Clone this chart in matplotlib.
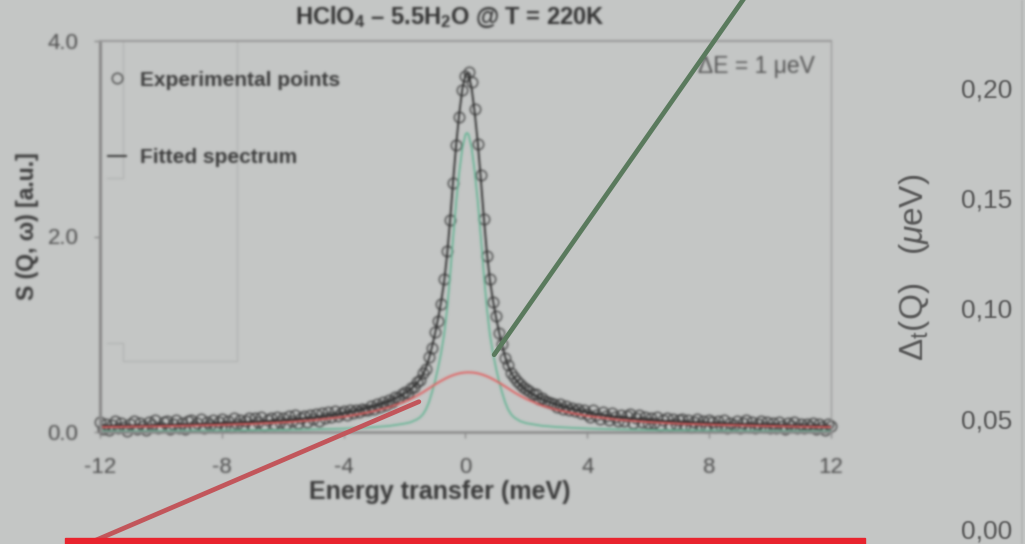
import numpy as np
import matplotlib
matplotlib.use("Agg")
import matplotlib.pyplot as plt
from matplotlib.lines import Line2D
from matplotlib.patches import Rectangle

# ---------------------------------------------------------------- data
# measured spectrum, energy transfer in meV (0.1 meV channels)
energy = np.round(np.arange(-120, 121) / 10.0, 1)
intensity = [
    0.10, 0.03, 0.08, 0.02, 0.07, 0.11, 0.04, 0.09, 0.05, 0.01,
    0.08, 0.11, 0.03, 0.09, 0.06, 0.02, 0.10, 0.07, 0.12, 0.04,
    0.05, 0.10, 0.11, 0.03, 0.08, 0.12, 0.04, 0.09, 0.03, 0.11,
    0.12, 0.06, 0.09, 0.13, 0.04, 0.10, 0.07, 0.12, 0.05, 0.10,
    0.13, 0.06, 0.11, 0.05, 0.14, 0.08, 0.12, 0.06, 0.11, 0.14,
    0.07, 0.14, 0.10, 0.15, 0.07, 0.12, 0.14, 0.08, 0.15, 0.10,
    0.14, 0.08, 0.16, 0.11, 0.17, 0.09, 0.14, 0.16, 0.10, 0.17,
    0.13, 0.18, 0.11, 0.19, 0.14, 0.20, 0.15, 0.21, 0.16, 0.19,
    0.21, 0.17, 0.22, 0.19, 0.23, 0.20, 0.24, 0.23, 0.22, 0.27,
    0.24, 0.29, 0.26, 0.31, 0.28, 0.33, 0.31, 0.36, 0.35, 0.39,
    0.41, 0.40, 0.45, 0.46, 0.51, 0.53, 0.60, 0.64, 0.77, 0.86,
    1.02, 1.14, 1.31, 1.57, 1.85, 2.17, 2.55, 2.94, 3.22, 3.50,
    3.64,
    3.68, 3.58, 3.30, 2.95, 2.63, 2.18, 1.80, 1.57, 1.33, 1.19,
    1.01, 0.90, 0.76, 0.69, 0.60, 0.56, 0.52, 0.49, 0.46, 0.44,
    0.42, 0.39, 0.39, 0.34, 0.35, 0.32, 0.31, 0.30, 0.29, 0.26,
    0.29, 0.24, 0.27, 0.22, 0.25, 0.21, 0.24, 0.19, 0.22, 0.18,
    0.15, 0.22, 0.17, 0.13, 0.20, 0.16, 0.12, 0.19, 0.15, 0.11,
    0.17, 0.11, 0.16, 0.18, 0.09, 0.14, 0.17, 0.10, 0.15, 0.09,
    0.14, 0.09, 0.15, 0.07, 0.12, 0.14, 0.07, 0.13, 0.08, 0.12,
    0.13, 0.07, 0.12, 0.05, 0.10, 0.13, 0.07, 0.11, 0.05, 0.12,
    0.10, 0.05, 0.11, 0.06, 0.12, 0.04, 0.09, 0.07, 0.11, 0.04,
    0.09, 0.12, 0.05, 0.10, 0.04, 0.08, 0.11, 0.05, 0.10, 0.04,
    0.09, 0.04, 0.10, 0.06, 0.03, 0.09, 0.06, 0.10, 0.04, 0.08,
    0.04, 0.08, 0.05, 0.09, 0.03, 0.08, 0.05, 0.02, 0.08, 0.06,
]

# fitted components, sampled densely around the elastic peak
energy_fit = [
    -12, -11, -10, -9, -8, -7, -6, -5, -4, -3.5, -3, -2.5,
    -2, -1.8, -1.6,
    -1.5, -1.4, -1.3, -1.2, -1.1, -1.0, -0.9, -0.8, -0.7, -0.6,
    -0.5, -0.4, -0.3, -0.2, -0.1,
    0.0, 0.05,
    0.1, 0.2, 0.3, 0.4, 0.5, 0.6, 0.7, 0.8, 0.9, 1.0,
    1.1, 1.2, 1.3, 1.4, 1.5,
    1.6, 1.8, 2.0,
    2.5, 3, 3.5, 4, 5, 6, 7, 8, 9, 10, 11, 12,
]
narrow_fit = [
    0.010, 0.011, 0.012, 0.014, 0.016, 0.019, 0.022, 0.027, 0.035, 0.042, 0.050, 0.062,
    0.086, 0.100, 0.128,
    0.148, 0.180, 0.230, 0.305, 0.405, 0.520, 0.655, 0.810, 1.000, 1.270,
    1.620, 2.010, 2.370, 2.670, 2.910,
    3.045, 3.060,
    3.045, 2.910, 2.670, 2.370, 2.010, 1.620, 1.270, 1.000, 0.810, 0.655,
    0.520, 0.405, 0.305, 0.230, 0.180,
    0.148, 0.110, 0.090,
    0.064, 0.051, 0.043, 0.036, 0.027, 0.022, 0.019, 0.016, 0.014, 0.012, 0.011, 0.010,
]
broad_fit = [
    0.050, 0.055, 0.059, 0.066, 0.074, 0.084, 0.098, 0.121, 0.156, 0.182, 0.213, 0.254,
    0.308, 0.337, 0.370,
    0.388, 0.406, 0.426, 0.446, 0.466, 0.486, 0.505, 0.523, 0.540, 0.556,
    0.570, 0.582, 0.592, 0.600, 0.606,
    0.609, 0.610,
    0.610, 0.609, 0.606, 0.600, 0.592, 0.582, 0.570, 0.556, 0.540, 0.523,
    0.505, 0.486, 0.466, 0.446, 0.426,
    0.406, 0.370, 0.337,
    0.271, 0.228, 0.193, 0.165, 0.126, 0.102, 0.086, 0.076, 0.068, 0.061, 0.055, 0.051,
]
total_fit = np.array(narrow_fit) + np.array(broad_fit)

x_ticks = [-12, -8, -4, 0, 4, 8, 12]
y_ticks = [0.0, 2.0, 4.0]
width_ticks = [0.00, 0.05, 0.10, 0.15, 0.20]

# anchor points of the two call-out lines (on the narrow and broad components)
narrow_anchor = (0.94, 0.79)
broad_anchor = (-1.53, 0.31)

# ---------------------------------------------------------------- style
BG = "#c4c6c5"
plt.rcParams["font.family"] = ["Liberation Sans", "DejaVu Sans"]
plt.rcParams["mathtext.fontset"] = "custom"
plt.rcParams["mathtext.rm"] = "Liberation Sans"
plt.rcParams["mathtext.it"] = "Liberation Sans:italic"
plt.rcParams["mathtext.bf"] = "Liberation Sans:bold"


def make_blur(sigma):
    """Gaussian soft-focus filter for agg_filter (premultiplied alpha)."""
    r = int(np.ceil(3 * sigma))
    taps = np.arange(-r, r + 1)
    weights = np.exp(-0.5 * (taps / sigma) ** 2)
    weights /= weights.sum()

    def blur(im, dpi):
        a = np.pad(im, ((r, r), (r, r), (0, 0))).astype(float)
        a[..., :3] *= a[..., 3:4]
        for axis in (0, 1):
            acc = np.zeros_like(a)
            for w, s in zip(weights, taps):
                acc += w * np.roll(a, s, axis=axis)
            a = acc
        alpha = a[..., 3:4]
        a[..., :3] = np.where(alpha > 1e-6, a[..., :3] / np.maximum(alpha, 1e-6), 0.0)
        return np.clip(a, 0, 1), -r, -r

    return blur


W, H = 1025, 544
fig = plt.figure(figsize=(W / 100, H / 100), dpi=100, facecolor=BG)

# ---------------------------------------------------------------- spectrum panel
ax = fig.add_axes([100 / W, 1 - 432 / H, 731 / W, 391 / H])
ax.set_facecolor("none")

pts, = ax.plot(energy, intensity, "o", mfc="none", mec="#3c3c3c", mew=1.1,
               ms=7.5, alpha=0.85, clip_on=False, label="Experimental points")
fit, = ax.plot(energy_fit, total_fit, color="#2a2a2a", lw=1.3, label="Fitted spectrum")
ax.plot(energy_fit, narrow_fit, color="#5fb391", lw=1.2)
ax.plot(energy_fit, broad_fit, color="#e35a5a", lw=1.3)

ax.set_xlim(-12, 12)
ax.set_ylim(0, 4)
ax.set_xticks(x_ticks)
ax.set_xticklabels([str(v) for v in x_ticks])
ax.set_yticks(y_ticks)
ax.set_yticklabels([f"{v:.1f}" for v in y_ticks])
ax.tick_params(axis="both", direction="out", length=4, width=1.0, color="#8a8a8a",
               labelsize=16, labelcolor="#4e4e4e")
ax.tick_params(axis="y", pad=11.5)
ax.tick_params(axis="x", pad=14)

for side, lw, col in (("left", 2.2, "#8a8a8a"), ("bottom", 1.8, "#8a8a8a"),
                      ("top", 1.5, "#9a9a9a"), ("right", 0.9, "#9a9a9a")):
    ax.spines[side].set_linewidth(lw)
    ax.spines[side].set_color(col)

ax.set_title(r"HClO$_\mathbf{4}$ – 5.5H$_\mathbf{2}$O @ T = 220K", fontsize=17,
             fontweight="bold", color="#333333", x=0.479, y=1.041, va="center")
ax.set_xlabel("Energy transfer (meV)", fontsize=18, fontweight="bold",
              color="#3a3a3a", va="center")
ax.xaxis.set_label_coords(0.465, -0.153)
ax.set_ylabel("S (Q, ω) [a.u.]", fontsize=16.5, fontweight="bold",
              color="#3a3a3a", va="center")
ax.yaxis.set_label_coords(-0.0985, 0.527)

ax.text(0.978, 0.936, "ΔE = 1 μeV", transform=ax.transAxes, ha="right",
        va="center", fontsize=16.5, color="#555555")

ax.legend(handles=[pts, fit], loc="upper left", bbox_to_anchor=(0.011, 0.924),
          frameon=False, borderpad=0, borderaxespad=0, handlelength=0.85,
          handletextpad=0.7, labelspacing=2.8, numpoints=1,
          prop={"weight": "bold", "size": 15}, labelcolor="#3c3c3c")

# faint frame lines left over from the legend boxes
faint = dict(color="#b2b4b3", lw=0.9, transform=ax.transAxes, clip_on=False)
for xs, ys in (([0.0315, 0.0315], [0.6496, 0.997]),
               ([0.0096, 0.0315], [0.6496, 0.6496]),
               ([0.1874, 0.1874], [0.1816, 0.997]),
               ([0.0315, 0.1874], [0.1816, 0.1816]),
               ([0.0315, 0.0315], [0.1816, 0.2276]),
               ([0.0096, 0.0315], [0.2276, 0.2276])):
    ax.add_line(Line2D(xs, ys, **faint))

ax.set_agg_filter(make_blur(1.2))

# ---------------------------------------------------------------- width axis (right)
ax2 = fig.add_axes([1022 / W, 0, 0.2, 1])
ax2.set_facecolor("none")
ax2.set_ylim(-0.0068, 0.2399)
ax2.set_yticks(width_ticks)
ax2.set_yticklabels([f"{v:.2f}".replace(".", ",") for v in width_ticks])
ax2.tick_params(axis="y", length=0, pad=7, labelsize=19, labelcolor="#555555")
ax2.xaxis.set_visible(False)
for side in ("top", "right", "bottom"):
    ax2.spines[side].set_visible(False)
ax2.spines["left"].set_color("#b3b5b4")
ax2.spines["left"].set_linewidth(1.2)
ax2.set_agg_filter(make_blur(0.8))

lbl = fig.text(915 / W, 1 - 267 / H, r"$\Delta_\mathrm{t}$(Q)   ($\mu$eV)", rotation=90,
               ha="center", va="center", fontsize=24, color="#555555")
lbl.set_agg_filter(make_blur(0.8))

# ---------------------------------------------------------------- call-outs
ov = fig.add_axes([0, 0, 1, 1], zorder=10)
ov.set_axis_off()
ov.set_xlim(0, 1)
ov.set_ylim(0, 1)

ov.annotate("", xy=narrow_anchor, xycoords=ax.transData,
            xytext=(762 / W, 1.05), textcoords="figure fraction",
            arrowprops=dict(arrowstyle="-", lw=3.4, color="#5a7a5d",
                            shrinkA=0, shrinkB=0))
ov.annotate("", xy=broad_anchor, xycoords=ax.transData,
            xytext=(73 / W, -0.011), textcoords="figure fraction",
            arrowprops=dict(arrowstyle="-", lw=3.4, color="#c2565b",
                            shrinkA=0, shrinkB=0))
ov.add_patch(Rectangle((65 / W, -0.01), 800 / W, 0.01 + 6 / H,
                       transform=fig.transFigure, color="#e8242e", zorder=12))

fig.savefig("out.png", dpi=100, facecolor=BG)
